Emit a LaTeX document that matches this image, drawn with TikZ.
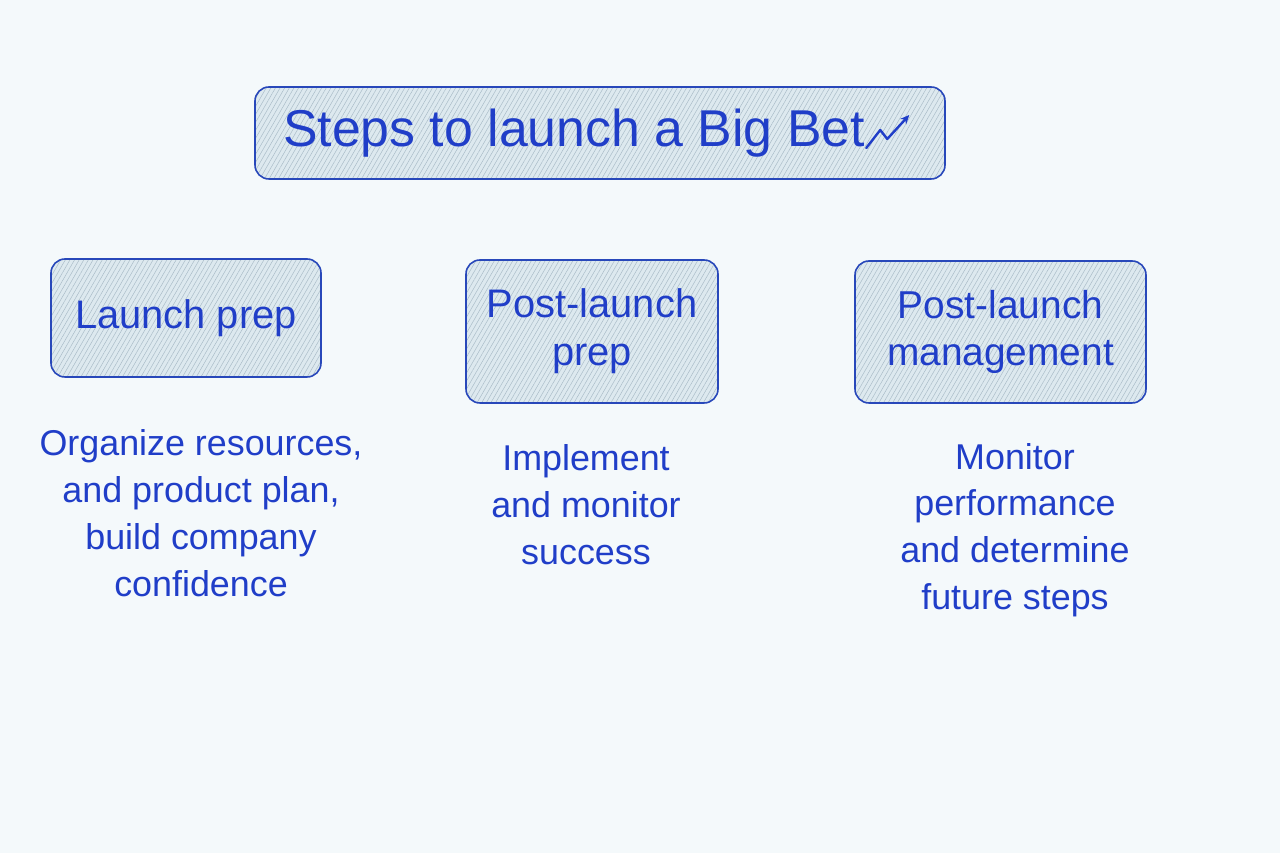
\documentclass[tikz,border=0pt]{standalone}
\usepackage{fontspec}
\setmainfont{Liberation Sans}
\usepackage{tikz}
\usetikzlibrary{arrows.meta}
\usetikzlibrary{patterns.meta}

\definecolor{paper}{RGB}{244,249,251}
\definecolor{ink}{RGB}{32,62,200}
\definecolor{rim}{RGB}{40,72,186}
\definecolor{wash}{RGB}{221,233,239}
\definecolor{hatch}{RGB}{170,188,200}

\begin{document}
\begin{tikzpicture}[>={Stealth[length=9bp,width=8bp]},line join=round,
  card/.style={draw=rim,line width=1.6bp,rounded corners=14bp,
    preaction={fill=wash},
    pattern={Lines[angle=60,distance=4bp,line width=0.5bp]},pattern color=hatch,
    text=ink,align=center,inner sep=0pt},
  note/.style={text=ink,align=center,font=\fontsize{36}{47}\selectfont},
]
%%
\fill [paper] (0bp,0bp) rectangle (1280bp,853bp);
\useasboundingbox (0bp,0bp) rectangle (1280bp,853bp);
\node (title) at (600bp,720bp) [card,minimum width=690bp,minimum height=92bp,font=\fontsize{52}{60}\selectfont] {Steps to launch a Big Bet\hspace{52bp}};
  \node (prep) at (186bp,535bp) [card,minimum width=270bp,minimum height=118bp,font=\fontsize{40}{48}\selectfont] {Launch prep};
  \node (post) at (592bp,521.5bp) [card,minimum width=252bp,minimum height=143bp,font=\fontsize{40}{48}\selectfont] {Post-launch\\prep};
  \node (mgmt) at (1000.5bp,521bp) [card,minimum width=291bp,minimum height=142bp,font=\fontsize{39}{48}\selectfont] {Post-launch\\management};
  \node (prep_note) at (201bp,340bp) [note] {Organize resources,\\and product plan,\\build company\\confidence};
  \node (post_note) at (586bp,348bp) [note] {Implement\\and monitor\\success};
  \node (mgmt_note) at (1015bp,323bp) [note] {Monitor\\performance\\and determine\\future steps};
  \draw [ink,line width=2.4bp,line cap=round,->] ([xshift=-79bp,yshift=-15bp]title.east) -- ++(14bp,18bp) -- ++(7bp,-9bp) -- ++(22bp,24bp);
%
\end{tikzpicture}
\end{document}
